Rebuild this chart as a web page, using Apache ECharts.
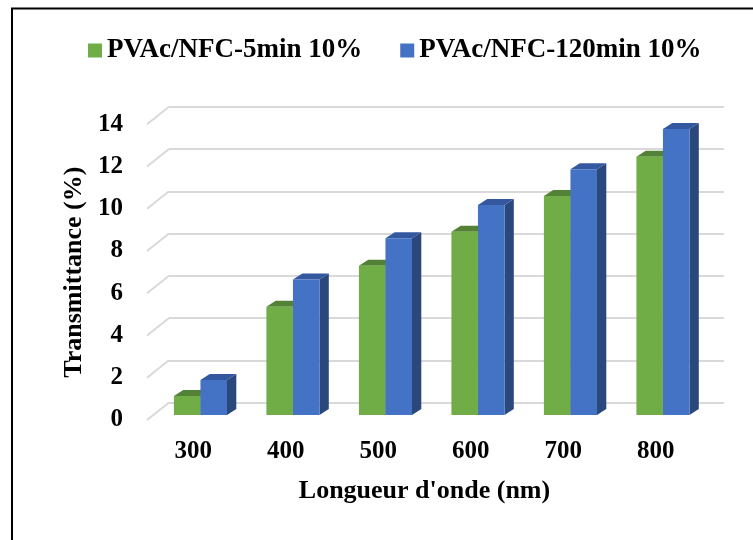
<!DOCTYPE html>
<html>
<head>
<meta charset="utf-8">
<script src="https://cdn.jsdelivr.net/npm/echarts@6/dist/echarts.min.js"></script>
<style>html,body{margin:0;padding:0;background:#fff;}#c{width:753px;height:540px;}</style>
</head>
<body>
<div id="c"></div>
<script>
// ---- data ----
const categories = ['300', '400', '500', '600', '700', '800'];
const seriesNames = ['PVAc/NFC-5min 10%', 'PVAc/NFC-120min 10%'];
const green5min = [0.9, 5.13, 7.07, 8.68, 10.37, 12.23];
const blue120min = [1.66, 6.42, 8.37, 9.94, 11.63, 13.54];
const yTicks = [0, 2, 4, 6, 8, 10, 12, 14];
const xTitle = "Longueur d'onde (nm)";
const yTitle = 'Transmittance (%)';

// ---- style / layout ----
const FONT = '"Liberation Serif", "Times New Roman", serif';
const colors = {
  green: { front: '#70ad47', top: '#538135', side: '#47702e' },
  blue: { front: '#4472c4', top: '#3358a0', side: '#2a487c' }
};
const front = { left: 147, top: 124.3, width: 555, height: 295.7 };
const floorDx = 22, floorDy = 17.5;
const barDepthX = 9.3, barDepthY = 6;
const barPlaneDx = 7.2, barPlaneDy = 5;

const chart = echarts.init(document.getElementById('c'), null, { renderer: 'canvas' });

function barRenderer(slot, col) {
  return function (params, api) {
    const cat = api.value(0), v = api.value(1);
    const base = api.coord([cat, 0]);
    const top = api.coord([cat, v]);
    const band = api.size([1, 0])[0];
    const w = band * 0.287;
    const x0 = base[0] - w + slot * w;
    const x1 = x0 + w;
    const yt = top[1], yb = base[1];
    return {
      type: 'group',
      children: [
        { type: 'polygon', shape: { points: [[x1, yt], [x1 + barDepthX, yt - barDepthY], [x1 + barDepthX, yb - barDepthY], [x1, yb]] }, style: { fill: col.side } },
        { type: 'polygon', shape: { points: [[x0, yt], [x1, yt], [x1 + barDepthX, yt - barDepthY], [x0 + barDepthX, yt - barDepthY]] }, style: { fill: col.top } },
        { type: 'rect', shape: { x: x0, y: yt, width: w, height: yb - yt }, style: { fill: col.front } }
      ]
    };
  };
}

const yMin = yTicks[0], yMax = yTicks[yTicks.length - 1], yInt = yTicks[1] - yTicks[0];

const option = {
  animation: false,
  backgroundColor: '#ffffff',
  graphic: [{
    type: 'rect', shape: { x: 12, y: 8.5, width: 800, height: 600 },
    style: { fill: 'none', stroke: '#000', lineWidth: 2 }, silent: true, z: 100
  }],
  legend: {
    data: seriesNames,
    left: 83, top: 32,
    icon: 'rect', itemWidth: 14, itemHeight: 14, itemGap: 38,
    textStyle: { fontFamily: FONT, fontWeight: 'bold', fontSize: 27, color: '#000' }
  },
  grid: [
    { left: front.left + floorDx, top: front.top - floorDy, width: front.width, height: front.height },
    { left: front.left, top: front.top, width: front.width, height: front.height },
    { left: front.left + barPlaneDx, top: front.top - barPlaneDy, width: front.width, height: front.height }
  ],
  xAxis: [
    { gridIndex: 0, type: 'category', data: categories, show: false },
    { gridIndex: 1, type: 'category', data: categories,
      axisLine: { show: false }, axisTick: { show: false },
      axisLabel: { margin: 19, fontFamily: FONT, fontWeight: 'bold', fontSize: 25, color: '#000' },
      name: xTitle, nameLocation: 'middle', nameGap: 58,
      nameTextStyle: { fontFamily: FONT, fontWeight: 'bold', fontSize: 26, color: '#000' } },
    { gridIndex: 2, type: 'category', data: categories, show: false }
  ],
  yAxis: [
    { gridIndex: 0, type: 'value', min: yMin, max: yMax, interval: yInt,
      axisLine: { show: false }, axisTick: { show: false }, axisLabel: { show: false },
      splitLine: { show: true, lineStyle: { color: '#d9d9d9', width: 2 } } },
    { gridIndex: 1, type: 'value', min: yMin, max: yMax, interval: yInt,
      axisLine: { show: false }, axisTick: { show: false }, splitLine: { show: false },
      axisLabel: { margin: 24, fontFamily: FONT, fontWeight: 'bold', fontSize: 25, color: '#000' },
      name: yTitle, nameLocation: 'middle', nameGap: 58,
      nameTextStyle: { fontFamily: FONT, fontWeight: 'bold', fontSize: 26, color: '#000' } },
    { gridIndex: 2, type: 'value', min: yMin, max: yMax, interval: yInt, show: false }
  ],
  series: [
    {
      type: 'custom', name: 'floor-edges', xAxisIndex: 1, yAxisIndex: 1, silent: true,
      data: yTicks.map(t => [0, t]),
      renderItem: function (params, api) {
        const p = api.coord([0, api.value(1)]);
        const x = params.coordSys.x;
        return { type: 'line', shape: { x1: x, y1: p[1], x2: x + floorDx, y2: p[1] - floorDy },
          style: { stroke: '#d9d9d9', lineWidth: 2 } };
      }
    },
    {
      type: 'custom', name: seriesNames[0], xAxisIndex: 2, yAxisIndex: 2,
      itemStyle: { color: colors.green.front },
      data: green5min.map((v, i) => [i, v]),
      encode: { x: 0, y: 1 },
      renderItem: barRenderer(0, colors.green)
    },
    {
      type: 'custom', name: seriesNames[1], xAxisIndex: 2, yAxisIndex: 2,
      itemStyle: { color: colors.blue.front },
      data: blue120min.map((v, i) => [i, v]),
      encode: { x: 0, y: 1 },
      renderItem: barRenderer(1, colors.blue)
    }
  ]
};
chart.setOption(option);
</script>
</body>
</html>
